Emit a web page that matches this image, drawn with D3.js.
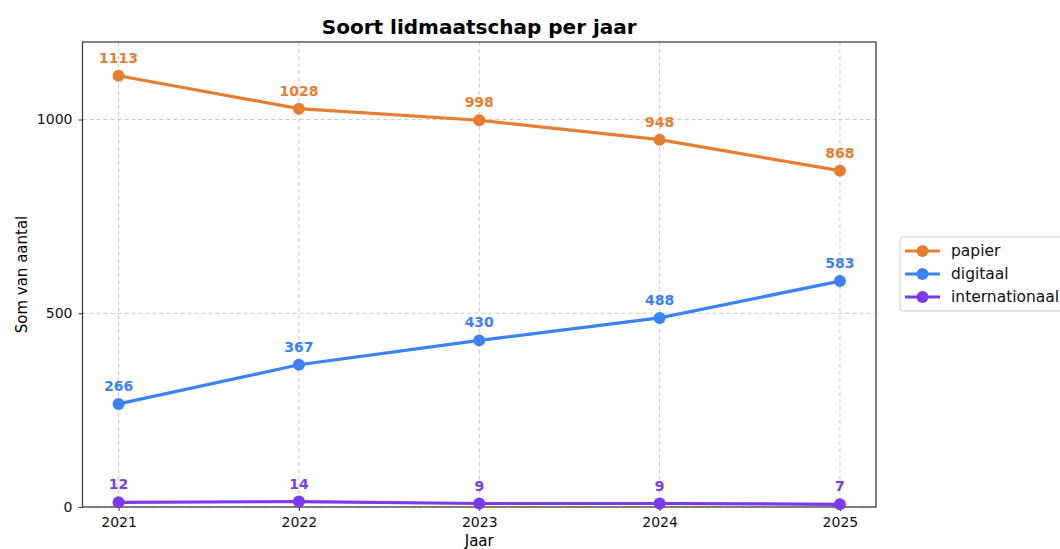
<!DOCTYPE html>
<html>
<head>
<meta charset="utf-8">
<script src="https://cdn.jsdelivr.net/npm/d3@7"></script>
<style>
body { margin: 0; background: #fff; }
text { font-family: "DejaVu Sans", sans-serif; }
</style>
</head>
<body>
<svg id="chart" width="1060" height="549"></svg>
<script>
// data
var years = [2021, 2022, 2023, 2024, 2025];
var papier = [1113, 1028, 998, 948, 868];
var digitaal = [266, 367, 430, 488, 583];
var internationaal = [12, 14, 9, 9, 7];
var seriesNames = ["papier", "digitaal", "internationaal"];
var seriesColors = ["#e67e32", "#3b82f6", "#7c3aed"];
var yTicks = [0, 500, 1000];

var series = [papier, digitaal, internationaal].map(function (vals, i) {
    return {name: seriesNames[i], color: seriesColors[i], values: vals};
});

var svg = d3.select("#chart");
var margin = {left: 82.5, top: 42, right: 876, bottom: 507};

var x = d3.scaleLinear().domain([2020.8, 2025.2]).range([margin.left, margin.right]);
var y = d3.scaleLinear().domain([0, 1200]).range([margin.bottom, margin.top]);

// grid
var grid = svg.append("g");
grid.selectAll(".vg").data(years).enter().append("line")
    .attr("x1", function (d) { return x(d); }).attr("x2", function (d) { return x(d); })
    .attr("y1", margin.top).attr("y2", margin.bottom)
    .style("stroke", "#cccccc").style("stroke-dasharray", "4,3").style("stroke-width", 1);
grid.selectAll(".hg").data(yTicks).enter().append("line")
    .attr("x1", margin.left).attr("x2", margin.right)
    .attr("y1", function (d) { return y(d); }).attr("y2", function (d) { return y(d); })
    .style("stroke", "#cccccc").style("stroke-dasharray", "4,3").style("stroke-width", 1);

// axes
var xAxis = d3.axisBottom(x).tickValues(years).tickFormat(d3.format("d")).tickSize(4).tickPadding(6);
var yAxis = d3.axisLeft(y).tickValues(yTicks).tickFormat(d3.format("d")).tickSize(4).tickPadding(6);
var gx = svg.append("g").attr("transform", "translate(0," + margin.bottom + ")").call(xAxis);
var gy = svg.append("g").attr("transform", "translate(" + margin.left + ",0)").call(yAxis);
[gx, gy].forEach(function (g) {
    g.select(".domain").remove();
    g.selectAll("text").style("font-size", "14px").style("fill", "#111");
    g.selectAll("line").style("stroke", "#333");
});

// frame
svg.append("rect").attr("x", margin.left).attr("y", margin.top)
    .attr("width", margin.right - margin.left).attr("height", margin.bottom - margin.top)
    .style("fill", "none").style("stroke", "#333").style("stroke-width", 1.2);

// lines + points + labels
var line = d3.line().x(function (d, i) { return x(years[i]); }).y(function (d) { return y(d); });
series.forEach(function (s) {
    var g = svg.append("g");
    g.append("path").datum(s.values).attr("d", line)
        .style("fill", "none").style("stroke", s.color).style("stroke-width", 3.2);
    g.selectAll("circle").data(s.values).enter().append("circle")
        .attr("cx", function (d, i) { return x(years[i]); }).attr("cy", function (d) { return y(d); })
        .attr("r", 6).style("fill", s.color);
    g.selectAll("text").data(s.values).enter().append("text")
        .attr("x", function (d, i) { return x(years[i]); }).attr("y", function (d) { return y(d) - 13; })
        .attr("text-anchor", "middle")
        .style("font-size", "14px").style("font-weight", "bold").style("fill", s.color)
        .text(function (d) { return d; });
});

// title and axis labels
svg.append("text").attr("x", (margin.left + margin.right) / 2).attr("y", 34)
    .attr("text-anchor", "middle").style("font-size", "20px").style("font-weight", "bold")
    .text("Soort lidmaatschap per jaar");
svg.append("text").attr("x", (margin.left + margin.right) / 2).attr("y", 546)
    .attr("text-anchor", "middle").style("font-size", "15px").text("Jaar");
svg.append("text").attr("transform", "translate(27," + ((margin.top + margin.bottom) / 2) + ") rotate(-90)")
    .attr("text-anchor", "middle").style("font-size", "15px").text("Som van aantal");

// legend
var legend = svg.append("g").attr("transform", "translate(900,237)");
legend.append("rect").attr("width", 175).attr("height", 74).attr("rx", 3)
    .style("fill", "#fff").style("stroke", "#d0d0d0");
series.forEach(function (s, i) {
    var ly = 14 + i * 23;
    legend.append("line").attr("x1", 5).attr("x2", 40).attr("y1", ly).attr("y2", ly)
        .style("stroke", s.color).style("stroke-width", 3.2);
    legend.append("circle").attr("cx", 22.5).attr("cy", ly).attr("r", 6).style("fill", s.color);
    legend.append("text").attr("x", 51).attr("y", ly + 5).style("font-size", "15.5px").style("fill", "#111")
        .text(s.name);
});
</script>
</body>
</html>
